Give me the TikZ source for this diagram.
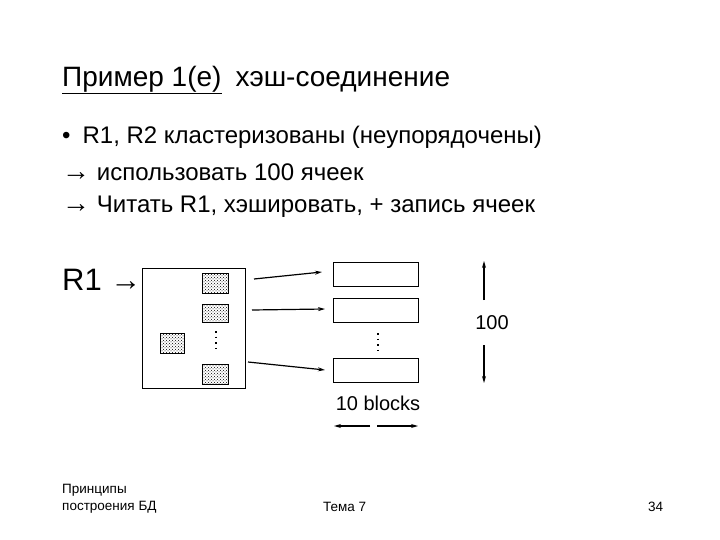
\documentclass[tikz,border=0pt]{standalone}
\usepackage{fontspec}
\setmainfont{Liberation Sans}
\usetikzlibrary{patterns,arrows.meta}
\begin{document}
\begin{tikzpicture}[x=1pt,y=-1pt,
  txt/.style={anchor=west,inner sep=0pt},
  blk/.style={draw,line width=0.6pt,pattern=crosshatch dots},
  bucket/.style={draw,line width=0.8pt},
  arr/.style={-{Stealth[length=7pt,width=4pt]},line width=1.2pt},
  vdots/.style={line width=1.6pt,dash pattern=on 1.6pt off 4pt}]
\useasboundingbox (0,0) rectangle (720,540);
\node[txt,font=\fontsize{28}{32}\selectfont] (title) at (62,80) {\underline{Пример 1(e)}\enspace хэш-соединение};
\node[txt,font=\fontsize{24}{28}\selectfont] (b1) at (62,137) {•\enspace R1, R2 кластеризованы (неупорядочены)};
\node[txt,font=\fontsize{24}{28}\selectfont] (b2) at (62,172) {{\fontsize{28}{28}\selectfont →} использовать 100 ячеек};
\node[txt,font=\fontsize{24}{28}\selectfont] (b3) at (62,207) {{\fontsize{28}{28}\selectfont →} Читать R1, хэшировать, + запись ячеек};
\node[txt,font=\fontsize{31}{34}\selectfont] (r1) at (62,280) {R1 →};
% relation box
\draw[line width=0.8pt] (142,268) rectangle (245,388);
\draw[blk] (202,273) rectangle (228,293);
\draw[blk] (202,304) rectangle (228,322);
\draw[blk] (202,364) rectangle (228,384);
\draw[blk] (160,333) rectangle (184,353);
\draw[vdots] (216,331) -- (216,350);
% buckets
\node[bucket,minimum width=85pt,minimum height=24pt,inner sep=0pt] (k1) at (375.5,274) {};
\node[bucket,minimum width=85pt,minimum height=24pt,inner sep=0pt] (k2) at (375.5,310) {};
\node[bucket,minimum width=85pt,minimum height=24pt,inner sep=0pt] (k3) at (375.5,370) {};
\draw[vdots] (378,333) -- (378,350);
\coordinate (s1) at (254,279);
\coordinate (s2) at (252,310);
\coordinate (s3) at (248,362);
\draw[arr] (s1) -- (322,272);
\draw[arr] (s2) -- (325,309);
\draw[arr] (s3) -- (325,370);
% 100 arrow
\coordinate (u1) at (484,300); \coordinate (u2) at (484,261);
\coordinate (d1) at (484,345); \coordinate (d2) at (484,383);
\draw[arr] (u1) -- (u2);
\draw[arr] (d1) -- (d2);
\node[font=\fontsize{20}{22}\selectfont,inner sep=0pt] (hundred) at (492,323) {100};
\node[font=\fontsize{20}{22}\selectfont,inner sep=0pt] (tenb) at (378,403) {10 blocks};
\coordinate (l1) at (370,426); \coordinate (l2) at (334,426);
\coordinate (r1a) at (377,426); \coordinate (r2a) at (418,426);
\draw[arr] (l1) -- (l2);
\draw[arr] (r1a) -- (r2a);
% footer
\node[txt,anchor=north west,align=left,font=\fontsize{13.5}{17}\selectfont] (f1) at (62,484) {Принципы\\построения БД};
\node[txt,font=\fontsize{13.5}{17}\selectfont] (f2) at (323,507) {Тема 7};
\node[txt,font=\fontsize{13.5}{17}\selectfont] (f3) at (648,507) {34};
\end{tikzpicture}
\end{document}
